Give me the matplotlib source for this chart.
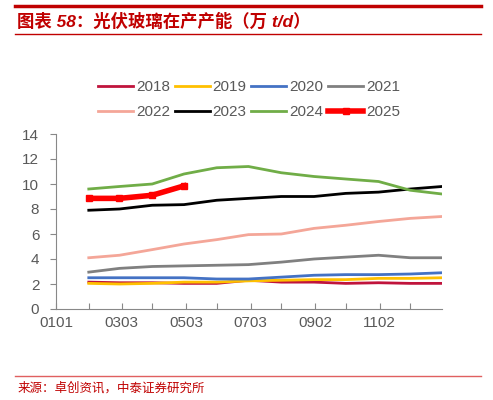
import matplotlib
matplotlib.use("Agg")
import matplotlib.pyplot as plt
import datetime as dt

plt.rcParams['font.family'] = ['Liberation Sans', 'Noto Sans CJK SC', 'DejaVu Sans']

tick_labels = ["0101","0201","0303","0401","0503","0601","0703","0801","0902","1001","1102","1201"]
point_dates = ["0201","0301","0401","0501","0601","0701","0801","0901","1001","1101","1201","1231"]
s2018 = [2.15,2.1,2.1,2.05,2.05,2.3,2.15,2.15,2.05,2.1,2.05,2.05]
s2019 = [2.05,2.0,2.05,2.15,2.15,2.25,2.3,2.35,2.35,2.45,2.45,2.5]
s2020 = [2.5,2.5,2.5,2.5,2.4,2.4,2.55,2.7,2.75,2.75,2.8,2.9]
s2021 = [2.95,3.25,3.4,3.45,3.5,3.55,3.75,4.0,4.15,4.3,4.1,4.1]
s2022 = [4.1,4.3,4.75,5.2,5.55,5.95,6.0,6.45,6.7,7.0,7.25,7.4]
s2023 = [7.9,8.0,8.3,8.35,8.7,8.85,9.0,9.0,9.25,9.35,9.6,9.8]
s2024 = [9.6,9.8,10.0,10.8,11.3,11.4,10.9,10.6,10.4,10.2,9.5,9.2]
s2025 = [8.85,8.85,9.1,9.85]

def d(s):
    return dt.date(2020, int(s[:2]), int(s[2:]))

xs = [d(s) for s in point_dates]
ticks = [d(s) for s in tick_labels]

fig = plt.figure(figsize=(4.93, 4.0), dpi=100)
ax = fig.add_axes([56/493, 1-309/400, (442-56)/493, (309-134)/400])

series = [("2018", s2018, "#c0143c"), ("2019", s2019, "#ffc000"), ("2020", s2020, "#4472c4"),
          ("2021", s2021, "#808080"), ("2022", s2022, "#f4a698"), ("2023", s2023, "#000000"),
          ("2024", s2024, "#70ad47")]
handles = []
for name, vals, c in series:
    h, = ax.plot(xs[:len(vals)], vals, color=c, lw=2, label=name)
    handles.append(h)
h, = ax.plot(xs[:len(s2025)], s2025, color="#ff0000", lw=4, marker="s", ms=5, label="2025")
handles.append(h)

ax.set_ylim(0, 14)
ax.set_yticks(range(0, 15, 2))
ax.set_xlim(d("0101"), d("1231"))
ax.set_xticks(ticks)
ax.set_xticklabels([t if i % 2 == 0 else "" for i, t in enumerate(tick_labels)])
for sp in ["top", "right"]:
    ax.spines[sp].set_visible(False)
for sp in ["left", "bottom"]:
    ax.spines[sp].set_color("#888888")
ax.tick_params(colors="#595959", labelsize=11, color="#888888")
ax.tick_params(axis="x", direction="in", length=4, pad=5)
ax.tick_params(axis="y", direction="out", length=4, pad=8)

order = [0, 4, 1, 5, 2, 6, 3, 7]
ax.legend([handles[i] for i in order], [handles[i].get_label() for i in order],
          ncol=4, loc="lower center", bbox_to_anchor=(0.5, 1.05), frameon=False,
          fontsize=11, labelcolor="#595959", handlelength=2.3, handletextpad=0.2,
          columnspacing=0.3, labelspacing=0.7, borderaxespad=0)

fig.add_artist(plt.Line2D([0.03, 0.975], [1-6/400, 1-6/400], color="#c00000", lw=2.5))
fig.add_artist(plt.Line2D([0.03, 0.975], [1-34/400, 1-34/400], color="#c00000", lw=1))
fig.text(0.035, 1-21/400, "图表 58：光伏玻璃在产产能（万 t/d）", color="#c00000", fontsize=12.5,
         fontweight="bold", style="italic", va="center",
         family=['Liberation Sans', 'Noto Sans CJK SC'])
fig.add_artist(plt.Line2D([0.03, 0.975], [1-376/400, 1-376/400], color="#e06060", lw=1))
fig.text(0.035, 1-388/400, "来源：卓创资讯，中泰证券研究所", color="#c00000", fontsize=9, va="center",
         family=['Noto Sans CJK SC'])

fig.savefig("out.png", dpi=100)
